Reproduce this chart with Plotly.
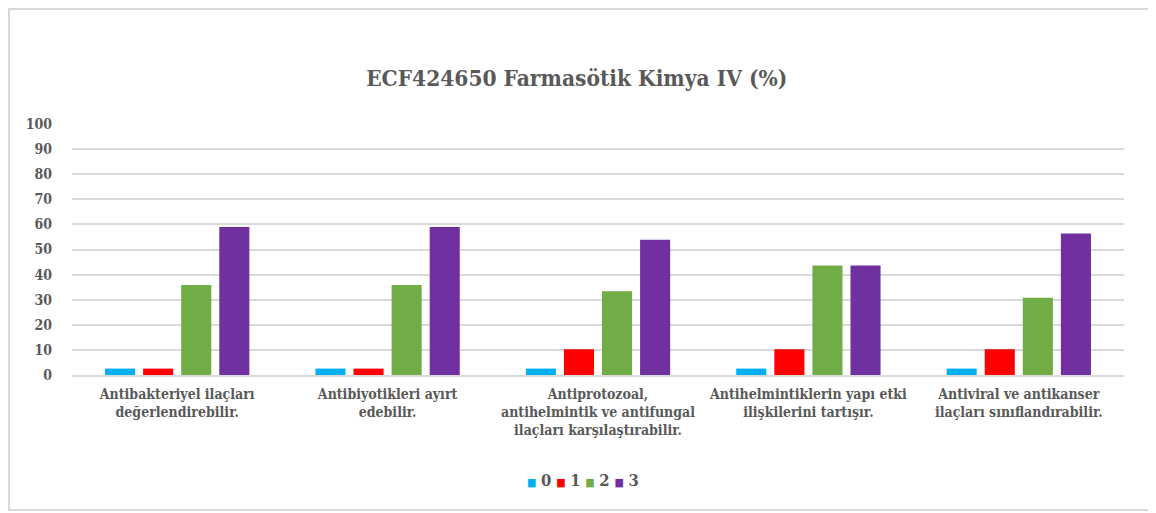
import plotly.graph_objects as go

categories = [
    "Antibakteriyel ilaçları<br>değerlendirebilir.",
    "Antibiyotikleri ayırt<br>edebilir.",
    "Antiprotozoal,<br>antihelmintik ve antifungal<br>ilaçları karşılaştırabilir.",
    "Antihelmintiklerin yapı etki<br>ilişkilerini tartışır.",
    "Antiviral ve antikanser<br>ilaçları sınıflandırabilir.",
]
series_names = ["0", "1", "2", "3"]
s0 = [2.56, 2.56, 2.56, 2.56, 2.56]
s1 = [2.56, 2.56, 10.26, 10.26, 10.26]
s2 = [35.9, 35.9, 33.33, 43.59, 30.77]
s3 = [58.97, 58.97, 53.85, 43.59, 56.41]
colors = ["#00B0F0", "#FF0000", "#70AD47", "#7030A0"]

fig = go.Figure()
for name, vals, c in zip(series_names, [s0, s1, s2, s3], colors):
    fig.add_trace(go.Bar(name=name, x=categories, y=vals, marker_color=c,
                         marker_line_width=0, hoverinfo="skip", showlegend=False))

font_main = "DejaVu Serif Condensed, DejaVu Serif"
fig.update_layout(
    width=1156, height=513,
    paper_bgcolor="white", plot_bgcolor="white",
    margin=dict(l=64, r=40, t=116, b=146),
    barmode="group", bargap=0.276, bargroupgap=0.21,
    font=dict(family=font_main, color="#595959", size=14),
    title=dict(text="<b>ECF424650 Farmasötik Kimya IV (%)</b>", x=0.492, xanchor="center",
               y=1 - 70 / 513, yanchor="middle",
               font=dict(size=22.5, color="#595959", family=font_main)),
    showlegend=False,
)
legend_text = "&nbsp;".join(
    f"<span style='color:{c};font-size:11px'>■</span>&nbsp;<b>{n}</b>" for n, c in zip(series_names, colors)
)
fig.add_annotation(text=legend_text, xref="paper", yref="paper", x=0.486, y=-(472 - 367) / 251,
                   xanchor="center", yanchor="middle", showarrow=False,
                   font=dict(size=16.5, color="#595959", family=font_main))
fig.update_yaxes(range=[0, 100], dtick=10, showgrid=True, gridcolor="#D9D9D9", gridwidth=2,
                 zeroline=False, showline=False, ticks="", ticklabelstandoff=19,
                 tickfont=dict(size=14, family=font_main, color="#595959", weight="bold"),
                 fixedrange=True)
fig.update_xaxes(showline=True, linecolor="#D9D9D9", linewidth=2, ticks="", ticklabelstandoff=5,
                 tickfont=dict(size=14, family=font_main, color="#595959", weight="bold"),
                 tickangle=0, fixedrange=True)
fig.add_shape(type="rect", xref="paper", yref="paper",
              x0=-0.0599, x1=1.0247, y0=-0.538, y1=1.458,
              line=dict(color="#D9D9D9", width=2), fillcolor="rgba(0,0,0,0)", layer="below")

fig.write_html("out.html")
